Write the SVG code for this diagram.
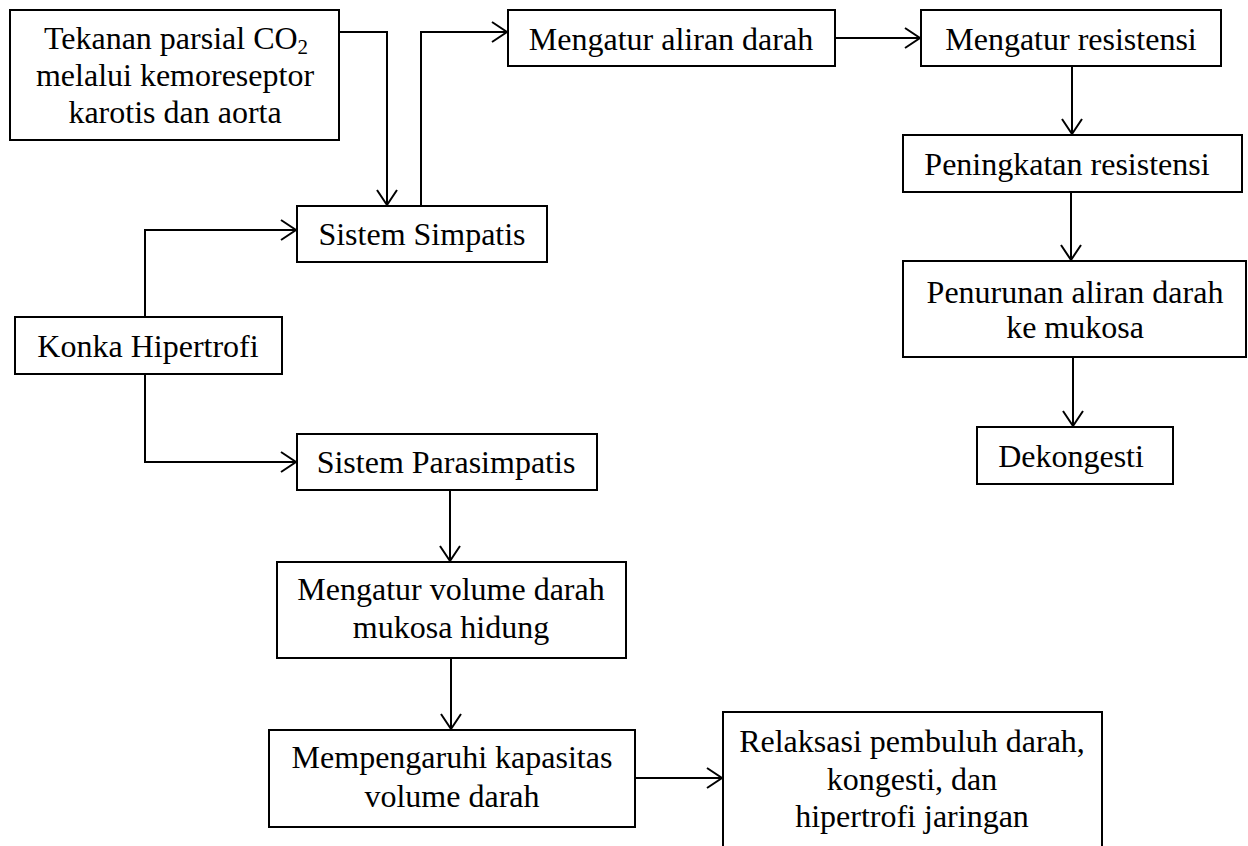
<svg xmlns="http://www.w3.org/2000/svg" width="1248" height="846" viewBox="0 0 1248 846">
<defs>
<style>
.box{fill:#fff;stroke:#000;stroke-width:2}
.t{font-family:"Liberation Serif","Times New Roman",serif;font-size:32px;fill:#000;text-anchor:middle}
.c{fill:none;stroke:#000;stroke-width:2}
</style>
<marker id="arr" markerUnits="userSpaceOnUse" markerWidth="24" markerHeight="24" viewBox="-16 -12 18 24" refX="0" refY="0" orient="auto">
<path d="M-15,-10 L0,0 L-15,10" fill="none" stroke="#000" stroke-width="2"/>
</marker>
</defs>
<rect width="1248" height="846" fill="#fff"/>
<g id="connectors">
<path class="c" d="M339,32 H387 V205" marker-end="url(#arr)"/>
<path class="c" d="M421,206 V32 H507" marker-end="url(#arr)"/>
<path class="c" d="M835,38 H920" marker-end="url(#arr)"/>
<path class="c" d="M1072,66 V134" marker-end="url(#arr)"/>
<path class="c" d="M1071,192 V260" marker-end="url(#arr)"/>
<path class="c" d="M1073,357 V426" marker-end="url(#arr)"/>
<path class="c" d="M145,317 V230 H296" marker-end="url(#arr)"/>
<path class="c" d="M145,374 V462 H296" marker-end="url(#arr)"/>
<path class="c" d="M450,490 V561" marker-end="url(#arr)"/>
<path class="c" d="M451,658 V729" marker-end="url(#arr)"/>
<path class="c" d="M635,778 H722" marker-end="url(#arr)"/>
</g>
<g id="n-tekanan">
<rect class="box" x="10" y="10" width="329" height="130"/>
<text class="t" x="176" y="49">Tekanan parsial CO<tspan font-size="21" dy="5">2</tspan></text>
<text class="t" x="175" y="86">melalui kemoreseptor</text>
<text class="t" x="175" y="123">karotis dan aorta</text>
</g>
<g id="n-simpatis">
<rect class="box" x="297" y="206" width="250" height="56"/>
<text class="t" x="422" y="245">Sistem Simpatis</text>
</g>
<g id="n-aliran">
<rect class="box" x="508" y="10" width="327" height="56"/>
<text class="t" x="671" y="50">Mengatur aliran darah</text>
</g>
<g id="n-resistensi">
<rect class="box" x="921" y="10" width="300" height="56"/>
<text class="t" x="1071" y="50">Mengatur resistensi</text>
</g>
<g id="n-peningkatan">
<rect class="box" x="903" y="135" width="339" height="57"/>
<text class="t" x="1067" y="175">Peningkatan resistensi</text>
</g>
<g id="n-penurunan">
<rect class="box" x="903" y="261" width="343" height="96"/>
<text class="t" x="1075" y="303">Penurunan aliran darah</text>
<text class="t" x="1075" y="338">ke mukosa</text>
</g>
<g id="n-dekongesti">
<rect class="box" x="977" y="427" width="196" height="57"/>
<text class="t" x="1071" y="467">Dekongesti</text>
</g>
<g id="n-konka">
<rect class="box" x="15" y="317" width="267" height="57"/>
<text class="t" x="148" y="357">Konka Hipertrofi</text>
</g>
<g id="n-parasimpatis">
<rect class="box" x="297" y="434" width="300" height="56"/>
<text class="t" x="446" y="473">Sistem Parasimpatis</text>
</g>
<g id="n-volume">
<rect class="box" x="277" y="562" width="349" height="96"/>
<text class="t" x="451" y="600">Mengatur volume darah</text>
<text class="t" x="451" y="638">mukosa hidung</text>
</g>
<g id="n-kapasitas">
<rect class="box" x="269" y="730" width="366" height="97"/>
<text class="t" x="452" y="768">Mempengaruhi kapasitas</text>
<text class="t" x="452" y="807">volume darah</text>
</g>
<g id="n-relaksasi">
<rect class="box" x="723" y="712" width="379" height="160"/>
<text class="t" x="912" y="752">Relaksasi pembuluh darah,</text>
<text class="t" x="912" y="790">kongesti, dan</text>
<text class="t" x="912" y="827">hipertrofi jaringan</text>
</g>
</svg>
